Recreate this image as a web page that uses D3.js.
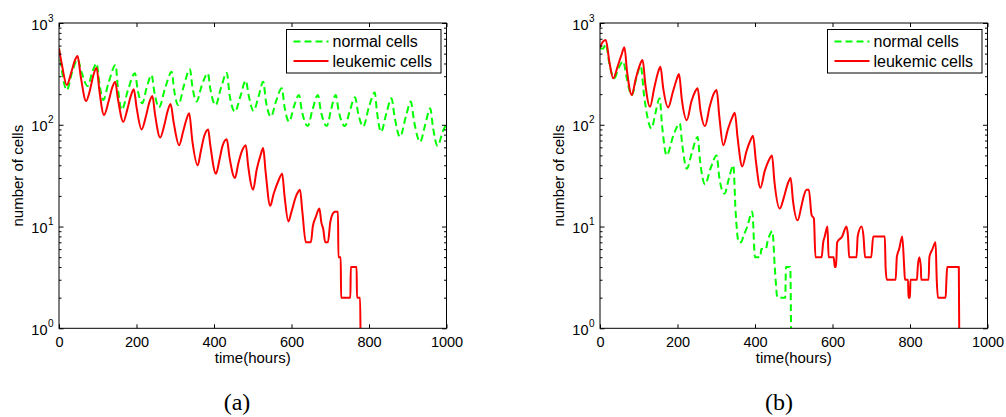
<!DOCTYPE html>
<html><head><meta charset="utf-8">
<script src="https://cdn.jsdelivr.net/npm/d3@7"></script>
<style>body{margin:0;background:#fff} svg{display:block}</style>
</head><body>
<svg id="c" width="1006" height="417"></svg>
<script>
const xTicks = [0, 200, 400, 600, 800, 1000];
const yTicks = [1, 10, 100, 1000];
const yExponents = ["0", "1", "2", "3"];
const seriesNames = ["normal cells", "leukemic cells"];
const captions = ["(a)", "(b)"];
const xLabel = "time(hours)";
const yLabel = "number of cells";

// panel (a): [time, cells]
const normA = [[0,564],[8,330],[20,219],[34,330],[48,440],[58,330],[74,240],[86,330],[97,402],[104,260],[114,175],[128,260],[146,387],[152,230],[162,140],[178,220],[196,320],[203,220],[215,163],[226,230],[239,308],[246,210],[258,148],[274,230],[291,332],[297,220],[308,156],[322,240],[338,351],[344,240],[355,169],[368,240],[384,320],[391,220],[404,156],[418,230],[433,325],[440,200],[454,134],[468,190],[482,271],[490,190],[502,137],[515,190],[527,265],[534,170],[547,120],[560,170],[575,228],[582,150],[594,107],[606,150],[619,196],[627,135],[642,97],[654,140],[668,196],[676,135],[691,97],[702,140],[714,196],[722,135],[738,97],[750,135],[764,186],[772,130],[785,96],[800,150],[815,207],[820,140],[831,85],[845,130],[858,182],[866,120],[880,76],[895,120],[908,169],[916,110],[932,68],[945,100],[958,145],[965,95],[977,62],[990,85],[1000,103]];
const leukA = [[0,564],[8,380],[20,246],[32,330],[40,420],[48,474],[56,300],[70,171],[80,220],[88,300],[97,364],[104,220],[116,125],[128,170],[137,230],[145,265],[152,180],[166,107],[176,140],[185,190],[193,223],[200,150],[213,90],[224,120],[233,165],[241,192],[248,125],[261,75],[272,100],[280,135],[288,160],[296,105],[310,63],[320,85],[328,110],[336,130],[344,70],[358,40],[366,55],[375,78],[385,90],[390,65],[405,33],[414,45],[422,62],[433,72],[440,48],[454,30],[463,42],[472,55],[482,63],[488,40],[501,23],[510,36],[520,50],[527,59],[533,35],[545,16],[554,21],[566,28],[576,33],[582,20],[592,11.2],[600,14],[612,20],[622,23],[628,14],[637,7],[650,7],[655,10],[663,12.5],[672,15],[677,11],[682,9.4],[687,7],[694,7],[700,11],[705,13],[712,14],[720,14],[721,5],[727,5],[728,2],[752,2],[753,4],[768,4],[769,2],[777,2],[778,1]];

// panel (b): [time, cells]
const normB = [[0,564],[8,560],[15,620],[24,400],[37,286],[48,360],[60,420],[68,300],[82,195],[94,290],[105,380],[114,190],[133,92],[143,130],[154,182],[160,100],[172,50],[190,80],[206,103],[212,65],[224,37],[238,55],[252,76],[258,45],[271,26],[286,38],[301,50],[308,30],[321,21],[333,30],[344,40],[350,14],[358,7],[364,7],[370,8],[380,10],[393,14],[400,5],[414,5],[416,6],[428,6],[432,7],[440,8.6],[445,9],[451,4],[458,2],[478,2],[480,4],[491,4],[493,1]];
const leukB = [[0,570],[8,660],[15,681],[24,420],[34,286],[46,380],[55,480],[63,577],[70,330],[82,196],[92,280],[102,380],[110,433],[117,250],[129,150],[140,230],[150,330],[156,372],[163,230],[176,148],[188,210],[198,280],[204,316],[211,180],[224,111],[236,170],[245,210],[252,228],[259,140],[271,97],[283,150],[293,200],[301,220],[308,120],[318,63],[330,90],[340,115],[348,131],[355,75],[367,39],[378,55],[388,70],[395,78],[402,45],[414,24],[425,35],[436,45],[444,50],[450,28],[464,15],[474,19],[484,26],[492,30],[498,18],[510,11.5],[520,16],[526,20],[533,23],[539,23],[546,13],[552,12],[556,5],[572,5],[576,7],[580,8],[587,10],[590,5],[603,5],[606,4],[609,4],[612,7],[625,8],[636,10],[640,8],[643,5],[662,5],[665,8],[675,10],[680,8],[684,5],[700,5],[705,8],[735,8],[737,4],[740,3],[763,3],[766,5],[772,6],[780,8],[785,4],[787,3],[795,3],[796,2],[800,2],[801,3],[818,3],[820,4],[824,5],[828,4],[829,3],[848,3],[850,5],[858,6],[866,7],[869,3],[872,2],[892,2],[894,3],[896,4],[926,4],[927,1]];

const svg = d3.select("#c");
const plotTop = 23, plotBottom = 328.3;
const panels = [
  {x0: 59, x1: 446.5, norm: normA, leuk: leukA, cap: captions[0], capX: 237},
  {x0: 600, x1: 987.5, norm: normB, leuk: leukB, cap: captions[1], capX: 779}
];
const sans = "'Liberation Sans', Arial, Helvetica, sans-serif";
const tickFont = 14.5;

panels.forEach((p, i) => {
  const x = d3.scaleLinear().domain([0, 1000]).range([p.x0, p.x1]);
  const y = d3.scaleLog().domain([1, 1000]).range([plotBottom, plotTop]);
  const g = svg.append("g");
  const clipId = "clip" + i;
  g.append("clipPath").attr("id", clipId).append("rect")
    .attr("x", p.x0).attr("y", plotTop).attr("width", p.x1 - p.x0).attr("height", plotBottom - plotTop);

  const line = d3.line().x(d => x(d[0])).y(d => y(d[1])).curve(d3.curveMonotoneX);
  const lg = g.append("g").attr("clip-path", `url(#${clipId})`);
  lg.append("path").attr("d", line(p.norm)).attr("fill", "none")
    .attr("stroke", "#00ff00").attr("stroke-width", 2).attr("stroke-dasharray", "7,4");
  lg.append("path").attr("d", line(p.leuk)).attr("fill", "none")
    .attr("stroke", "#ff0000").attr("stroke-width", 2).attr("stroke-linejoin", "round");

  // frame
  g.append("rect").attr("x", p.x0).attr("y", plotTop).attr("width", p.x1 - p.x0).attr("height", plotBottom - plotTop)
    .attr("fill", "none").attr("stroke", "#000").attr("stroke-width", 1);

  // x axis (bottom, ticks inside) and top ticks
  const xb = g.append("g").attr("transform", `translate(0,${plotBottom})`)
    .call(d3.axisBottom(x).tickValues(xTicks).tickSize(-4).tickPadding(8.5).tickFormat(d3.format("d")));
  const xt = g.append("g").attr("transform", `translate(0,${plotTop})`)
    .call(d3.axisTop(x).tickValues(xTicks).tickSize(-4).tickFormat(""));
  [xb, xt].forEach(a => { a.select(".domain").remove(); a.selectAll("line").attr("stroke", "#000"); });
  xb.selectAll("text").attr("font-family", sans).attr("font-size", tickFont).attr("fill", "#000");

  // y axis: major + minor ticks, both sides
  const minor = [];
  for (let k = 0; k < 3; k++) for (let m = 2; m <= 9; m++) minor.push(m * Math.pow(10, k));
  const yl = g.append("g").attr("transform", `translate(${p.x0},0)`)
    .call(d3.axisLeft(y).tickValues(yTicks).tickSize(-4.5).tickFormat(""));
  const yr = g.append("g").attr("transform", `translate(${p.x1},0)`)
    .call(d3.axisRight(y).tickValues(yTicks).tickSize(-4.5).tickFormat(""));
  const yml = g.append("g").attr("transform", `translate(${p.x0},0)`)
    .call(d3.axisLeft(y).tickValues(minor).tickSize(-2.5).tickFormat(""));
  const ymr = g.append("g").attr("transform", `translate(${p.x1},0)`)
    .call(d3.axisRight(y).tickValues(minor).tickSize(-2.5).tickFormat(""));
  [yl, yr, yml, ymr].forEach(a => { a.select(".domain").remove(); a.selectAll("line").attr("stroke", "#000"); });

  // y tick labels 10^k
  yTicks.forEach((v, j) => {
    g.append("text").attr("x", p.x0 - 11.5).attr("y", y(v) + 6.5)
      .attr("text-anchor", "end").attr("font-family", sans).attr("font-size", tickFont).attr("fill", "#000").text("10");
    g.append("text").attr("x", p.x0 - 11).attr("y", y(v) - 1.5)
      .attr("text-anchor", "start").attr("font-family", sans).attr("font-size", 10).attr("fill", "#000").text(yExponents[j]);
  });

  // axis labels
  g.append("text").attr("x", (p.x0 + p.x1) / 2).attr("y", 363).attr("text-anchor", "middle")
    .attr("font-family", sans).attr("font-size", 15).attr("fill", "#000").text(xLabel);
  g.append("text").attr("transform", `translate(${p.x0 - 36},${(plotTop + plotBottom) / 2}) rotate(-90)`)
    .attr("text-anchor", "middle").attr("font-family", sans).attr("font-size", 15).attr("fill", "#000").text(yLabel);

  // legend
  const lx = p.x1 - 160, ly = 29.5, lw = 154.5, lh = 43.5;
  const leg = g.append("g");
  leg.append("rect").attr("x", lx).attr("y", ly).attr("width", lw).attr("height", lh)
    .attr("fill", "#fff").attr("stroke", "#000").attr("stroke-width", 1);
  const styles = [{c: "#00ff00", dash: "7,4"}, {c: "#ff0000", dash: null}];
  seriesNames.forEach((name, j) => {
    const yy = ly + 12 + j * 19.5;
    leg.append("line").attr("x1", lx + 7).attr("x2", lx + 42).attr("y1", yy).attr("y2", yy)
      .attr("stroke", styles[j].c).attr("stroke-width", 2).attr("stroke-dasharray", styles[j].dash);
    leg.append("text").attr("x", lx + 46).attr("y", yy + 5.5).attr("font-family", sans)
      .attr("font-size", 16).attr("fill", "#000").text(name);
  });

  // caption
  g.append("text").attr("x", p.capX).attr("y", 410).attr("text-anchor", "middle")
    .attr("font-family", "'Liberation Serif', 'DejaVu Serif', serif").attr("font-size", 24).attr("fill", "#000").text(p.cap);
});
</script>
</body></html>
